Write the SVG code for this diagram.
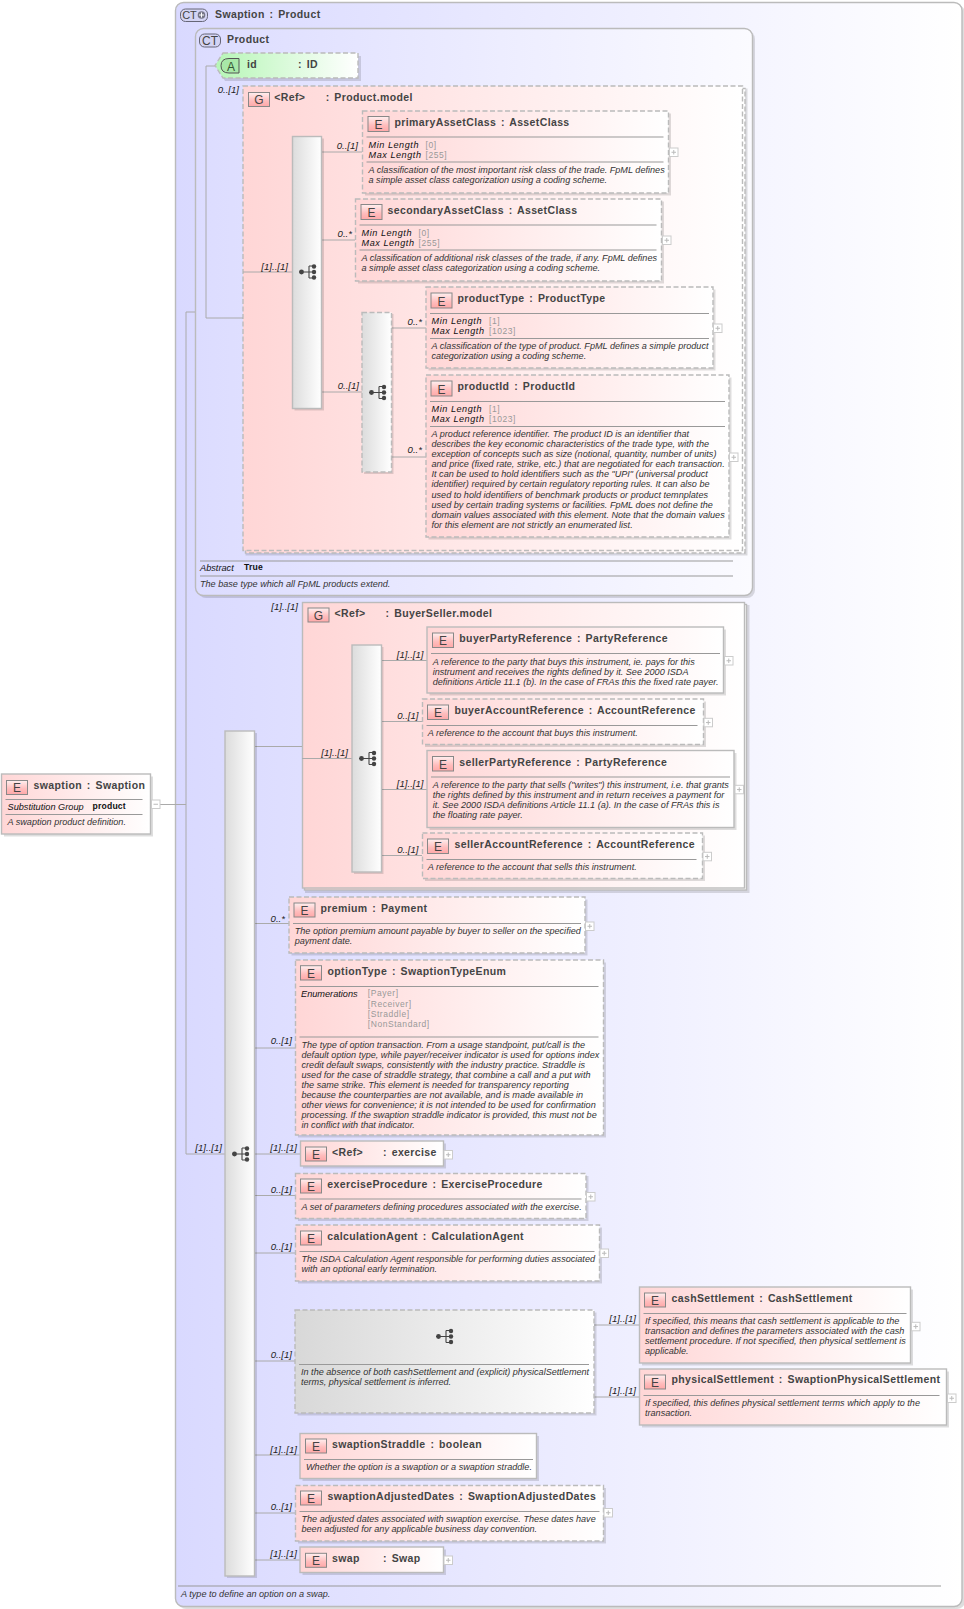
<svg xmlns="http://www.w3.org/2000/svg" width="964" height="1609" viewBox="0 0 964 1609">
<style>
text{font-family:"Liberation Sans",Arial,sans-serif;fill:#333}
.t{font-size:10.5px;font-weight:bold;letter-spacing:.38px;word-spacing:1.5px;fill:#444}
.d{font-size:9.1px;font-style:italic;fill:#333}
.k{font-size:9.2px;font-style:italic;fill:#111}
.m{font-size:9.1px;font-style:italic;fill:#111;letter-spacing:.55px}
.v{font-size:8.5px;fill:#999;letter-spacing:.55px}
.w{font-size:8.6px;font-weight:bold;fill:#111;letter-spacing:.2px}
.o{font-size:9.6px;font-style:italic;fill:#222;text-anchor:end}
.bt{font-size:12px;fill:#444;text-anchor:middle}
.b{fill:url(#el);stroke:#bbb;stroke-width:1.4}
.ds{stroke-dasharray:5 2.5}
.s{fill:#000;opacity:.13}
.e{fill:url(#bd);stroke:#888;stroke-width:1}
.l{stroke:#999;stroke-width:1;fill:none}
.c{stroke:#aaa;stroke-width:1;fill:none}
.bar{fill:url(#gr);stroke:#bbb;stroke-width:1.4}
.p{fill:#fff;stroke:#ccc;stroke-width:1}
.pm{stroke:#bbb;stroke-width:1}
.ct{fill:#d4d4f4;stroke:#667;stroke-width:1}
</style>
<defs>
<linearGradient id="el" x1="0" y1="0" x2="1" y2="0"><stop offset="0" stop-color="#ffd6d6"/><stop offset="1" stop-color="#fff"/></linearGradient>
<linearGradient id="bd" x1="0" y1="0" x2="0" y2="1"><stop offset="0" stop-color="#fff0f0"/><stop offset=".6" stop-color="#ffbcbc"/><stop offset="1" stop-color="#ffa8a8"/></linearGradient>
<linearGradient id="bl" x1="0" y1="0" x2="1" y2="0"><stop offset="0" stop-color="#d9d9ff"/><stop offset="1" stop-color="#fff"/></linearGradient>
<linearGradient id="bl2" x1="0" y1="0" x2="1" y2="0"><stop offset="0" stop-color="#dcdcff"/><stop offset="1" stop-color="#fbfbff"/></linearGradient>
<linearGradient id="gr" x1="0" y1="0" x2="1" y2="0"><stop offset="0" stop-color="#dcdcdc"/><stop offset="1" stop-color="#fff"/></linearGradient>
<linearGradient id="gc" x1="0" y1="0" x2="1" y2="0"><stop offset="0" stop-color="#d8d8d8"/><stop offset="1" stop-color="#fff"/></linearGradient>
<linearGradient id="gn" x1="0" y1="0" x2="1" y2="0"><stop offset="0" stop-color="#b6f6b6"/><stop offset="1" stop-color="#fff"/></linearGradient>
<g id="plus"><rect class="p" x="0" y="0" width="8.5" height="8.5"/><path class="pm" d="M2 4.25h4.5M4.25 2v4.5"/></g>
<g id="seq"><path d="M0 7.5H8M8 7.5H10M10 1.5V13.5M10 1.5H15M10 7.5H15M10 13.5H15" fill="none" stroke="#444" stroke-width="1.1"/><circle cx="2.5" cy="7.5" r="2.4" fill="#444"/><circle cx="15" cy="2" r="2.2" fill="#444"/><circle cx="15" cy="7.5" r="2.2" fill="#444"/><circle cx="15" cy="13" r="2.2" fill="#444"/></g>
</defs>

<g id="type-swaption">
<rect x="178" y="5" width="787" height="1604" rx="8" class="s"/>
<rect x="175.500" y="2.500" width="786.500" height="1604" rx="8" fill="url(#bl)" stroke="#bbb" stroke-width="1.4"/>
<rect x="180.500" y="9" width="27" height="12.500" rx="5" class="ct"/>
<text x="187.500" y="19" style="font-size:11px;fill:#444;text-anchor:middle" dx="2">CT</text>
<circle cx="201.500" cy="15" r="3.800" fill="#778"/><path d="M199 15h5M201.500 12.500v5" stroke="#fff" stroke-width="1"/>
<text class="t" x="215" y="17.500">Swaption : Product</text>
<path class="l" d="M178 1586H941"/>
<text class="d" x="181" y="1597">A type to define an option on a swap.</text>
</g>

<g id="type-product">
<rect x="198" y="31" width="557" height="567" rx="8" class="s"/>
<rect x="195.500" y="28.500" width="557" height="567" rx="8" fill="url(#bl2)" stroke="#bbb" stroke-width="1.4"/>
<rect x="199.500" y="34" width="21" height="13" rx="5" class="ct"/>
<text class="bt" x="210" y="45">CT</text>
<text class="t" x="227" y="43">Product</text>
<path class="l" d="M200 561H733M200 576H733"/>
<text class="k" x="200" y="571">Abstract</text><text class="w" x="244" y="570">True</text>
<text class="d" x="200" y="587">The base type which all FpML products extend.</text>
</g>

<g id="group-product-model" transform="translate(243,86)">
<rect class="s" x="2.500" y="2.500" width="502" height="467"/>
<rect class="b ds" x="2.500" y="2.500" width="499.500" height="464.500"/>
<rect class="b ds" width="499.500" height="464.500"/>
<rect class="e" x="5.500" y="6.500" width="21" height="14"/><text class="bt" x="16" y="18">G</text>
<text class="t" x="31.300" y="14.700">&lt;Ref&gt;<tspan x="82.700">: Product.model</tspan></text>
</g>

<g id="group-buyerseller-model" transform="translate(302.500,602.500)">
<rect class="s" x="2.500" y="2.500" width="444.500" height="288"/>
<rect class="b" x="2" y="2" width="442" height="285.500"/>
<rect class="b" width="442" height="285.500"/>
<rect class="e" x="5.500" y="5.500" width="21" height="14"/><text class="bt" x="16" y="17">G</text>
<text class="t" x="32" y="14.500">&lt;Ref&gt;<tspan x="83">: BuyerSeller.model</tspan></text>
</g>

<g id="connectors">
<path class="c" d="M159.500 804.500H186M186 312V1154M186 312H195M186 1154H225"/>
<path class="c" d="M206 66V318M206 66H215M206 318H243"/>
<path class="c" d="M243 272H292M321.500 152H362M321.500 240H355M321.500 392H362M391.500 328H426M391.500 457H426"/>
<path class="c" d="M254.500 746.500H302M302 758.500H352M381 660.500H427M381 721.500H422M381 789.500H427M381 855.500H422"/>
<path class="c" d="M254.500 923.500H289M254.500 1048H296M254.500 1154H300M254.500 1195.500H296M254.500 1253H296M254.500 1361H295M254.500 1455H300M254.500 1513H295M254.500 1560H300"/>
<path class="c" d="M594 1325H639M594 1397H639"/>
</g>

<g id="labels">
<text class="o" x="239" y="93">0..[1]</text>
<text class="o" x="288" y="270">[1]..[1]</text>
<text class="o" x="358" y="149">0..[1]</text>
<text class="o" x="352" y="237">0..*</text>
<text class="o" x="359" y="389">0..[1]</text>
<text class="o" x="422" y="325">0..*</text>
<text class="o" x="422" y="453">0..*</text>
<text class="o" x="298" y="610">[1]..[1]</text>
<text class="o" x="348" y="755.500">[1]..[1]</text>
<text class="o" x="423.500" y="657.500">[1]..[1]</text>
<text class="o" x="418.500" y="719">0..[1]</text>
<text class="o" x="423.500" y="786.500">[1]..[1]</text>
<text class="o" x="418.500" y="852.500">0..[1]</text>
<text class="o" x="285" y="922">0..*</text>
<text class="o" x="292" y="1044">0..[1]</text>
<text class="o" x="222" y="1151">[1]..[1]</text>
<text class="o" x="297" y="1151">[1]..[1]</text>
<text class="o" x="292" y="1193">0..[1]</text>
<text class="o" x="292" y="1250">0..[1]</text>
<text class="o" x="292" y="1358">0..[1]</text>
<text class="o" x="297" y="1453">[1]..[1]</text>
<text class="o" x="292" y="1510">0..[1]</text>
<text class="o" x="297" y="1557">[1]..[1]</text>
<text class="o" x="636" y="1322">[1]..[1]</text>
<text class="o" x="636" y="1394">[1]..[1]</text>
</g>

<g id="swaption" transform="translate(1.500,774)">
<rect class="s" x="2.500" y="2.500" width="149" height="60"/><rect class="b" width="149" height="60"/>
<rect class="e" x="5" y="6.500" width="21" height="14"/><text class="bt" x="15.500" y="18">E</text>
<text class="t" x="32" y="15">swaption : Swaption</text>
<path class="l" d="M4 25.500H141M4 40.500H141"/>
<text class="k" x="6" y="36">Substitution Group</text><text class="w" x="91" y="35">product</text>
<text class="d" x="6" y="51">A swaption product definition.</text>
<g transform="translate(150,26)"><rect class="p" width="8.500" height="8.500"/><path class="pm" d="M2 4.250h4.500"/></g>
</g>

<g id="attr-id" transform="translate(215,53)">
<path class="s" d="M10 3H146V28H10L3 15Z"/>
<path d="M8 0H143V25H8L0 12.500Z" fill="url(#gn)" stroke="#bbb" stroke-width="1.400" stroke-dasharray="5 2.500"/>
<path d="M14 5.500H24V20H14Q6 20 6 12.750Q6 5.500 14 5.500Z" fill="#a8e8a8" stroke="#555"/>
<text class="bt" x="16" y="18" style="fill:#353">A</text>
<text class="t" x="32" y="15">id<tspan x="83">: ID</tspan></text>
</g>

<g id="seq-product"><rect class="s" x="294.500" y="138.500" width="29.500" height="272"/><rect class="bar" x="292.500" y="136.500" width="29" height="272"/><use href="#seq" x="299" y="264.500"/></g>

<g id="primaryAssetClass" transform="translate(362.500,111)">
<rect class="s" x="2.500" y="2.500" width="306" height="82"/><rect class="b ds" width="306" height="82"/>
<rect class="e" x="5.500" y="5.500" width="21" height="15"/><text class="bt" x="16" y="18">E</text>
<text class="t" x="32" y="15">primaryAssetClass : AssetClass</text>
<path class="l" d="M4 26H301M4 51H301"/>
<text class="m" x="6" y="37">Min Length</text><text class="v" x="63" y="37">[0]</text>
<text class="m" x="6" y="47">Max Length</text><text class="v" x="63" y="47">[255]</text>
<text class="d" x="6" y="62">A classification of the most important risk class of the trade. FpML defines</text>
<text class="d" x="6" y="72">a simple asset class categorization using a coding scheme.</text>
<use href="#plus" x="307" y="37"/>
</g>

<g id="secondaryAssetClass" transform="translate(355.500,199)">
<rect class="s" x="2.500" y="2.500" width="306" height="82"/><rect class="b ds" width="306" height="82"/>
<rect class="e" x="5.500" y="5.500" width="21" height="15"/><text class="bt" x="16" y="18">E</text>
<text class="t" x="32" y="15">secondaryAssetClass : AssetClass</text>
<path class="l" d="M4 26H301M4 51H301"/>
<text class="m" x="6" y="37">Min Length</text><text class="v" x="63" y="37">[0]</text>
<text class="m" x="6" y="47">Max Length</text><text class="v" x="63" y="47">[255]</text>
<text class="d" x="6" y="62">A classification of additional risk classes of the trade, if any. FpML defines</text>
<text class="d" x="6" y="72">a simple asset class categorization using a coding scheme.</text>
<use href="#plus" x="307" y="37"/>
</g>

<g id="seq-product-2"><rect class="s" x="364" y="314" width="29.500" height="160"/><rect class="bar ds" x="362" y="312.500" width="29.500" height="159.500"/><use href="#seq" x="369" y="385"/></g>

<g id="productType" transform="translate(426,287)">
<rect class="s" x="2.500" y="2.500" width="287" height="81"/><rect class="b ds" width="287" height="81"/>
<rect class="e" x="5" y="6" width="21" height="15"/><text class="bt" x="15.500" y="18.500">E</text>
<text class="t" x="31.500" y="15">productType : ProductType</text>
<path class="l" d="M4 26.500H283M4 51.500H283"/>
<text class="m" x="5.500" y="37">Min Length</text><text class="v" x="63" y="37">[1]</text>
<text class="m" x="5.500" y="47">Max Length</text><text class="v" x="63" y="47">[1023]</text>
<text class="d" x="5.500" y="62">A classification of the type of product. FpML defines a simple product</text>
<text class="d" x="5.500" y="72">categorization using a coding scheme.</text>
<use href="#plus" x="287.500" y="37"/>
</g>

<g id="productId" transform="translate(426,375)">
<rect class="s" x="2.500" y="2.500" width="303" height="162"/><rect class="b ds" width="303" height="162"/>
<rect class="e" x="5" y="6" width="21" height="15"/><text class="bt" x="15.500" y="18.500">E</text>
<text class="t" x="31.500" y="15">productId : ProductId</text>
<path class="l" d="M4 26.500H299M4 51.500H299"/>
<text class="m" x="5.500" y="37">Min Length</text><text class="v" x="63" y="37">[1]</text>
<text class="m" x="5.500" y="47">Max Length</text><text class="v" x="63" y="47">[1023]</text>
<text class="d" x="5.500" y="62">A product reference identifier. The product ID is an identifier that</text>
<text class="d" x="5.500" y="72">describes the key economic characteristics of the trade type, with the</text>
<text class="d" x="5.500" y="82">exception of concepts such as size (notional, quantity, number of units)</text>
<text class="d" x="5.500" y="92">and price (fixed rate, strike, etc.) that are negotiated for each transaction.</text>
<text class="d" x="5.500" y="102">It can be used to hold identifiers such as the "UPI" (universal product</text>
<text class="d" x="5.500" y="112">identifier) required by certain regulatory reporting rules. It can also be</text>
<text class="d" x="5.500" y="122.500">used to hold identifiers of benchmark products or product temnplates</text>
<text class="d" x="5.500" y="132.500">used by certain trading systems or facilities. FpML does not define the</text>
<text class="d" x="5.500" y="142.500">domain values associated with this element. Note that the domain values</text>
<text class="d" x="5.500" y="153">for this element are not strictly an enumerated list.</text>
<use href="#plus" x="303.500" y="78"/>
</g>

<g id="seq-main"><rect class="s" x="227" y="733" width="30" height="845"/><rect class="bar" x="225" y="731" width="29.500" height="845"/><use href="#seq" x="232" y="1146.500"/></g>

<g id="seq-buyerseller"><rect class="s" x="354" y="647" width="29.500" height="227"/><rect class="bar" x="352" y="645" width="29.500" height="227"/><use href="#seq" x="359" y="751"/></g>

<g id="buyerPartyReference" transform="translate(427,627)">
<rect class="s" x="2.500" y="2.500" width="296.500" height="66"/><rect class="b" width="296.500" height="66"/>
<rect class="e" x="5.500" y="6" width="21" height="14.500"/><text class="bt" x="16" y="18">E</text>
<text class="t" x="32.300" y="15">buyerPartyReference : PartyReference</text>
<path class="l" d="M4 26.500H293"/>
<text class="d" x="5.700" y="37.500">A reference to the party that buys this instrument, ie. pays for this</text>
<text class="d" x="5.700" y="47.500">instrument and receives the rights defined by it. See 2000 ISDA</text>
<text class="d" x="5.700" y="57.500">definitions Article 11.1 (b). In the case of FRAs this the fixed rate payer.</text>
<use href="#plus" x="297.500" y="29.500"/>
</g>

<g id="buyerAccountReference" transform="translate(422.500,699)">
<rect class="s" x="2.500" y="2.500" width="281" height="45.500"/><rect class="b ds" width="281" height="45.500"/>
<rect class="e" x="5" y="6" width="21" height="14.500"/><text class="bt" x="15.500" y="18">E</text>
<text class="t" x="32" y="14.700">buyerAccountReference : AccountReference</text>
<path class="l" d="M4 26.500H275"/>
<text class="d" x="5.300" y="36.700">A reference to the account that buys this instrument.</text>
<use href="#plus" x="281.500" y="19.300"/>
</g>

<g id="sellerPartyReference" transform="translate(427,750.500)">
<rect class="s" x="2.500" y="2.500" width="307" height="77"/><rect class="b" width="307" height="77"/>
<rect class="e" x="5.500" y="6" width="21" height="14.500"/><text class="bt" x="16" y="18">E</text>
<text class="t" x="32.300" y="15">sellerPartyReference : PartyReference</text>
<path class="l" d="M4 26.500H303"/>
<text class="d" x="5.700" y="37.500">A reference to the party that sells ("writes") this instrument, i.e. that grants</text>
<text class="d" x="5.700" y="47.500">the rights defined by this instrument and in return receives a payment for</text>
<text class="d" x="5.700" y="57.500">it. See 2000 ISDA definitions Article 11.1 (a). In the case of FRAs this is</text>
<text class="d" x="5.700" y="67.500">the floating rate payer.</text>
<use href="#plus" x="308" y="34.800"/>
</g>

<g id="sellerAccountReference" transform="translate(422.500,833)">
<rect class="s" x="2.500" y="2.500" width="280" height="45.500"/><rect class="b ds" width="280" height="45.500"/>
<rect class="e" x="5" y="6" width="21" height="14.500"/><text class="bt" x="15.500" y="18">E</text>
<text class="t" x="32" y="14.700">sellerAccountReference : AccountReference</text>
<path class="l" d="M4 26.500H274"/>
<text class="d" x="5.300" y="36.700">A reference to the account that sells this instrument.</text>
<use href="#plus" x="280.500" y="19.300"/>
</g>

<g id="premium" transform="translate(289,897)">
<rect class="s" x="2.500" y="2.500" width="296" height="56"/><rect class="b ds" width="296" height="56"/>
<rect class="e" x="5" y="6" width="21" height="14"/><text class="bt" x="15.500" y="17.500">E</text>
<text class="t" x="31.500" y="14.700">premium : Payment</text>
<path class="l" d="M4 26.500H292"/>
<text class="d" x="5.700" y="37">The option premium amount payable by buyer to seller on the specified</text>
<text class="d" x="5.700" y="47">payment date.</text>
<use href="#plus" x="296.500" y="25"/>
</g>

<g id="optionType" transform="translate(295.500,960)">
<rect class="s" x="2.500" y="2.500" width="308" height="175"/><rect class="b ds" width="308" height="175"/>
<rect class="e" x="5" y="5.700" width="21" height="14.300"/><text class="bt" x="15.500" y="17.500">E</text>
<text class="t" x="32" y="14.700">optionType : SwaptionTypeEnum</text>
<path class="l" d="M4 26.500H303M4 77H303"/>
<text class="k" x="5.500" y="37">Enumerations</text>
<text class="v" x="72.300" y="36.300">[Payer]</text>
<text class="v" x="72.300" y="46.500">[Receiver]</text>
<text class="v" x="72.300" y="57">[Straddle]</text>
<text class="v" x="72.300" y="67">[NonStandard]</text>
<text class="d" x="6" y="88">The type of option transaction. From a usage standpoint, put/call is the</text>
<text class="d" x="6" y="98">default option type, while payer/receiver indicator is used for options index</text>
<text class="d" x="6" y="108">credit default swaps, consistently with the industry practice. Straddle is</text>
<text class="d" x="6" y="118">used for the case of straddle strategy, that combine a call and a put with</text>
<text class="d" x="6" y="128">the same strike. This element is needed for transparency reporting</text>
<text class="d" x="6" y="138">because the counterparties are not available, and is made available in</text>
<text class="d" x="6" y="148">other views for convenience; it is not intended to be used for confirmation</text>
<text class="d" x="6" y="158">processing. If the swaption straddle indicator is provided, this must not be</text>
<text class="d" x="6" y="168">in conflict with that indicator.</text>
</g>

<g id="exercise" transform="translate(300.500,1141)">
<rect class="s" x="2.500" y="2.500" width="143" height="25"/><rect class="b" width="143" height="25"/>
<rect class="e" x="5" y="6" width="21" height="14"/><text class="bt" x="15.500" y="17.500">E</text>
<text class="t" x="31.500" y="15">&lt;Ref&gt;<tspan x="82.500">: exercise</tspan></text>
<use href="#plus" x="143.500" y="9.500"/>
</g>

<g id="exerciseProcedure" transform="translate(295.500,1173.500)">
<rect class="s" x="2.500" y="2.500" width="290.500" height="45"/><rect class="b ds" width="290.500" height="45"/>
<rect class="e" x="5" y="5.500" width="21" height="14"/><text class="bt" x="15.500" y="17">E</text>
<text class="t" x="31.800" y="14">exerciseProcedure : ExerciseProcedure</text>
<path class="l" d="M4 25.500H286"/>
<text class="d" x="6" y="36">A set of parameters defining procedures associated with the exercise.</text>
<use href="#plus" x="291" y="19"/>
</g>

<g id="calculationAgent" transform="translate(295.500,1225)">
<rect class="s" x="2.500" y="2.500" width="304" height="56"/><rect class="b ds" width="304" height="56"/>
<rect class="e" x="5" y="6" width="21" height="14"/><text class="bt" x="15.500" y="17.500">E</text>
<text class="t" x="31.800" y="14.700">calculationAgent : CalculationAgent</text>
<path class="l" d="M4 26.500H299"/>
<text class="d" x="6" y="36.700">The ISDA Calculation Agent responsible for performing duties associated</text>
<text class="d" x="6" y="46.700">with an optional early termination.</text>
<use href="#plus" x="304.500" y="24"/>
</g>

<g id="choice-settlement" transform="translate(295,1310)">
<rect class="s" x="2.500" y="2.500" width="299" height="103"/>
<rect width="299" height="103" fill="url(#gc)" stroke="#bbb" stroke-width="1.400" stroke-dasharray="5 2.500"/>
<use href="#seq" x="141" y="19"/>
<path class="l" d="M4 54.500H294"/>
<text class="d" x="6" y="64.500">In the absence of both cashSettlement and (explicit) physicalSettlement</text>
<text class="d" x="6" y="74.500">terms, physical settlement is inferred.</text>
</g>

<g id="cashSettlement" transform="translate(639.500,1287)">
<rect class="s" x="2.500" y="2.500" width="271" height="76"/><rect class="b" width="271" height="76"/>
<rect class="e" x="5" y="6" width="21" height="14"/><text class="bt" x="15.500" y="17.500">E</text>
<text class="t" x="32" y="14.700">cashSettlement : CashSettlement</text>
<path class="l" d="M4 26.500H267"/>
<text class="d" x="5.500" y="37">If specified, this means that cash settlement is applicable to the</text>
<text class="d" x="5.500" y="47">transaction and defines the parameters associated with the cash</text>
<text class="d" x="5.500" y="57">settlement procedure. If not specified, then physical settlement is</text>
<text class="d" x="5.500" y="67">applicable.</text>
<use href="#plus" x="272" y="35.300"/>
</g>

<g id="physicalSettlement" transform="translate(639.500,1369)">
<rect class="s" x="2.500" y="2.500" width="307" height="56"/><rect class="b" width="307" height="56"/>
<rect class="e" x="5" y="6" width="21" height="14"/><text class="bt" x="15.500" y="17.500">E</text>
<text class="t" x="32" y="14.400">physicalSettlement : SwaptionPhysicalSettlement</text>
<path class="l" d="M4 26.500H300"/>
<text class="d" x="5.500" y="37">If specified, this defines physical settlement terms which apply to the</text>
<text class="d" x="5.500" y="47">transaction.</text>
<use href="#plus" x="308" y="25"/>
</g>

<g id="swaptionStraddle" transform="translate(300,1433.500)">
<rect class="s" x="2.500" y="2.500" width="236.500" height="45"/><rect class="b" width="236.500" height="45"/>
<rect class="e" x="5.500" y="5.500" width="21" height="14"/><text class="bt" x="16" y="17">E</text>
<text class="t" x="32" y="14.300">swaptionStraddle : boolean</text>
<path class="l" d="M4 26H233"/>
<text class="d" x="6" y="36.500">Whether the option is a swaption or a swaption straddle.</text>
</g>

<g id="swaptionAdjustedDates" transform="translate(295.500,1485.500)">
<rect class="s" x="2.500" y="2.500" width="308" height="55.500"/><rect class="b ds" width="308" height="55.500"/>
<rect class="e" x="5" y="5.500" width="21" height="14"/><text class="bt" x="15.500" y="17">E</text>
<text class="t" x="32" y="14.500">swaptionAdjustedDates : SwaptionAdjustedDates</text>
<path class="l" d="M4 26H304"/>
<text class="d" x="6" y="36.500">The adjusted dates associated with swaption exercise. These dates have</text>
<text class="d" x="6" y="46.500">been adjusted for any applicable business day convention.</text>
<use href="#plus" x="308.500" y="23"/>
</g>

<g id="swap" transform="translate(300,1547)">
<rect class="s" x="2.500" y="2.500" width="143.500" height="25.500"/><rect class="b" width="143.500" height="25.500"/>
<rect class="e" x="5.500" y="6.300" width="21" height="14"/><text class="bt" x="16" y="18">E</text>
<text class="t" x="32" y="14.700">swap<tspan x="83">: Swap</tspan></text>
<use href="#plus" x="144" y="9"/>
</g>
</svg>
